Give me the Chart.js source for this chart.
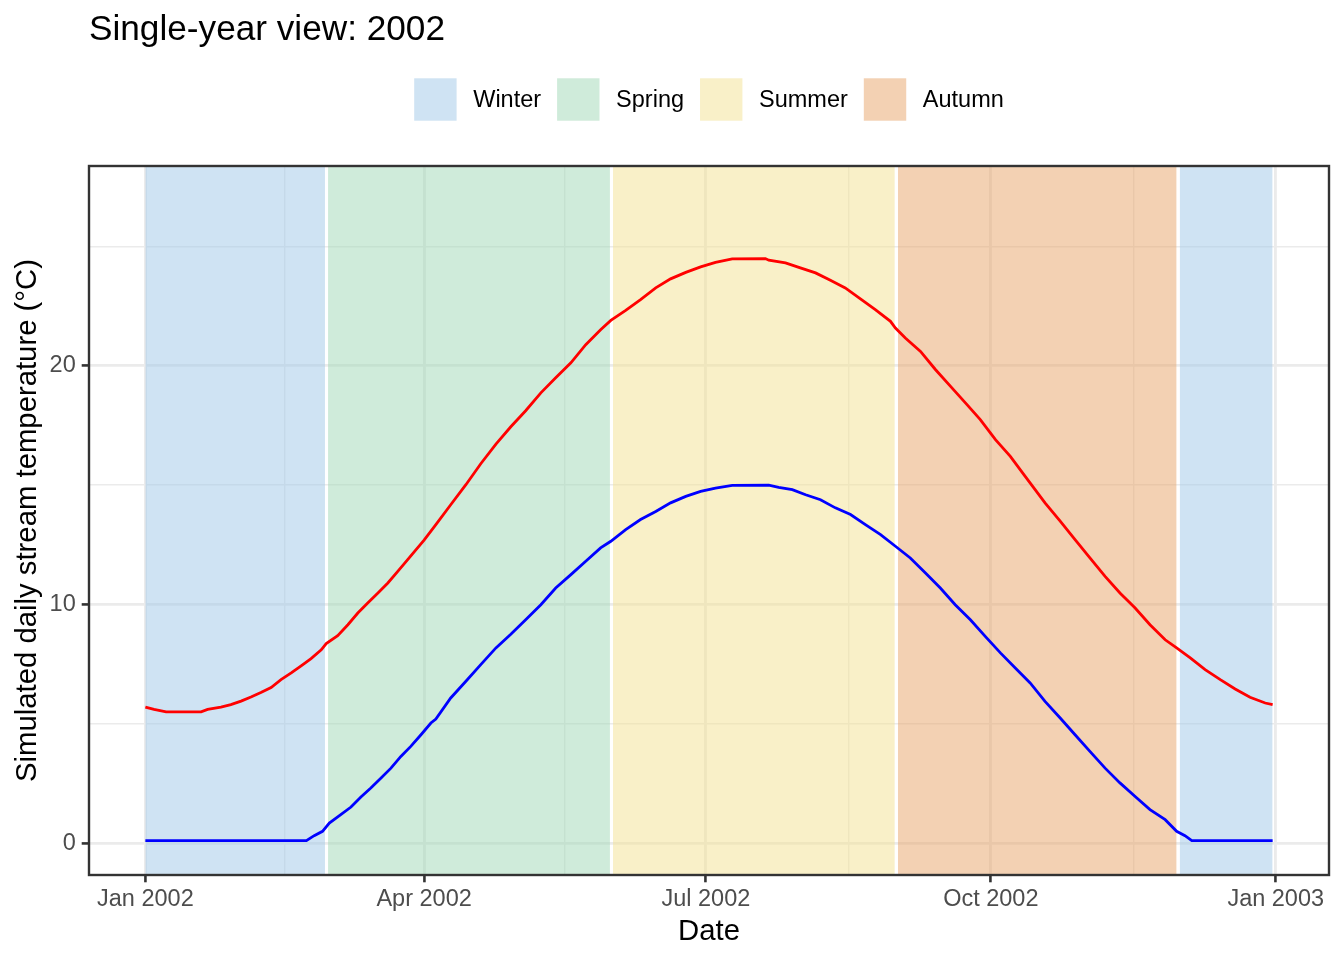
<!DOCTYPE html>
<html>
<head>
<meta charset="utf-8">
<title>Single-year view: 2002</title>
<script src="https://cdn.jsdelivr.net/npm/chart.js@4.4.1/dist/chart.umd.min.js"></script>
<style>
    html, body { margin: 0; padding: 0; background: #ffffff; }
    #wrap { width: 1344px; height: 960px; }
</style>
</head>
<body>
<div id="wrap"><canvas id="tempChart" width="1344" height="960"></canvas></div>
<script>
// x values are days since 1 Jan 2002
const upperDays = [0, 2.8, 6.7, 18, 20.1, 24.4, 27.6, 30.9, 34.1, 37.3, 40.6, 43.8, 47.1, 50.3, 53.5, 56.8, 58.4,
    62.1, 65.4, 68.6, 71.8, 75.1, 78.3, 81.5, 84.7, 90, 93.8, 98.6, 103.5, 108.3, 113.2, 118.0, 122.8, 127.7,
    132.5, 137.4, 142.2, 147.0, 150.3, 155.1, 159.9, 164.8, 169.6, 174.5, 179.3, 184.1, 189.5, 200.2, 201.3,
    206.7, 211.5, 216.4, 221.2, 226.0, 230.9, 235.7, 240.6, 242.2, 245.4, 250.3, 255.1, 260.0, 264.8, 269.6,
    274.5, 279.3, 284.1, 290.5, 295.4, 300.2, 305.0, 309.9, 314.7, 319.6, 324.4, 329.3, 333.0, 337.4, 342.2,
    347.1, 351.9, 356.7, 361.6, 364];
const upperTemps = [5.7, 5.6, 5.5, 5.5, 5.6, 5.7, 5.8, 5.95, 6.12, 6.31, 6.52, 6.85, 7.13, 7.43, 7.73, 8.1, 8.36,
    8.69, 9.15, 9.64, 10.06, 10.48, 10.9, 11.39, 11.88, 12.7, 13.35, 14.18, 15.02, 15.9, 16.72, 17.45, 18.12, 18.87,
    19.5, 20.13, 20.89, 21.52, 21.91, 22.33, 22.78, 23.27, 23.65, 23.92, 24.15, 24.34, 24.49, 24.5, 24.43,
    24.32, 24.11, 23.9, 23.59, 23.27, 22.81, 22.36, 21.87, 21.59, 21.17, 20.61, 19.85, 19.14, 18.45, 17.75,
    16.91, 16.21, 15.37, 14.26, 13.49, 12.72, 11.95, 11.18, 10.48, 9.85, 9.15, 8.52, 8.18, 7.76, 7.27,
    6.85, 6.46, 6.11, 5.87, 5.8];

const lowerDays = [0, 52.0, 54.5, 57.2, 59.4, 63.1, 66.4, 69.6, 72.8, 76.1, 79.3, 82.5, 85.7, 89.0, 92.2, 93.8, 98.6,
    103.5, 108.3, 113.2, 118.0, 122.8, 127.7, 132.5, 137.4, 142.2, 147.0, 150.3, 155.1, 159.9, 164.8, 169.6,
    174.5, 179.3, 184.1, 189.5, 201.3, 204.5, 208.9, 213.2, 218.0, 222.8, 227.7, 232.5, 237.4, 242.2, 247.0,
    251.9, 256.7, 261.5, 266.4, 271.2, 276.1, 280.9, 285.7, 290.5, 295.4, 300.2, 305.0, 309.9, 314.7, 319.6,
    324.4, 329.3, 333.0, 335.7, 337.9, 364];
const lowerTemps = [0.1, 0.1, 0.31, 0.49, 0.84, 1.19, 1.51, 1.93, 2.31, 2.73, 3.14, 3.63, 4.05, 4.54, 5.03, 5.2, 6.08,
    6.78, 7.48, 8.18, 8.75, 9.36, 9.99, 10.69, 11.25, 11.81, 12.37, 12.65, 13.14, 13.56, 13.9, 14.26,
    14.53, 14.74, 14.88, 14.99, 15.0, 14.91, 14.81, 14.6, 14.39, 14.05, 13.77, 13.35, 12.93, 12.44, 11.95,
    11.32, 10.69, 9.99, 9.36, 8.66, 7.97, 7.34, 6.71, 5.94, 5.24, 4.54, 3.84, 3.14, 2.52, 1.95,
    1.4, 0.98, 0.49, 0.31, 0.1, 0.1];

// season bands (first and last day of each)
const seasonNames = ['Winter', 'Spring', 'Summer', 'Autumn'];
const periodSeason = ['Winter', 'Spring', 'Summer', 'Autumn', 'Winter'];
const periodStart = [0, 59, 151, 243, 334];
const periodEnd = [58, 150, 242, 333, 364];

// axis breaks
const xMajorDays = [0, 90, 181, 273, 365];
const xMajorLabels = ['Jan 2002', 'Apr 2002', 'Jul 2002', 'Oct 2002', 'Jan 2003'];
const xMinorDays = [45, 135.5, 227, 319];
const yMajorTicks = [0, 10, 20];
const yMinorTicks = [5, 15, 25];

const X_MIN = -18.2, X_MAX = 382.2;
const Y_MIN = -1.34, Y_MAX = 28.38;

const seasonColors = {
    Winter: 'rgba(159, 199, 231, 0.5)',
    Spring: 'rgba(159, 215, 181, 0.5)',
    Summer: 'rgba(243, 225, 145, 0.5)',
    Autumn: 'rgba(231, 163, 103, 0.5)'
};

const FONT = '"Liberation Sans", Arial, Helvetica, sans-serif';
Chart.defaults.font.family = FONT;

const bandSets = periodStart.map((start, i) => ({
    label: periodSeason[i],
    data: [{x: start, y: Y_MAX}, {x: periodEnd[i], y: Y_MAX}],
    borderWidth: 0,
    pointRadius: 0,
    fill: 'start',
    backgroundColor: seasonColors[periodSeason[i]],
    order: 2
}));

const lineSets = [
    {
        label: 'upper',
        data: upperDays.map((d, i) => ({x: d, y: upperTemps[i]})),
        borderColor: '#ff0000',
        borderWidth: 2.8,
        pointRadius: 0,
        fill: false,
        order: 0
    },
    {
        label: 'lower',
        data: lowerDays.map((d, i) => ({x: d, y: lowerTemps[i]})),
        borderColor: '#0000ff',
        borderWidth: 2.8,
        pointRadius: 0,
        fill: false,
        order: 0
    }
];

const isMajorX = v => xMajorDays.includes(v);
const isMajorY = v => yMajorTicks.includes(v);

const ggDecor = {
    id: 'ggDecor',
    afterDatasetsDraw(chart) {
        const {ctx, chartArea: a} = chart;
        ctx.save();
        ctx.strokeStyle = '#333333';
        ctx.lineWidth = 2.4;
        ctx.strokeRect(a.left, a.top, a.right - a.left, a.bottom - a.top);
        ctx.restore();
    },
    afterDraw(chart) {
        const {ctx, chartArea: a} = chart;
        ctx.save();
        // title
        ctx.fillStyle = '#000000';
        ctx.font = '35.2px ' + FONT;
        ctx.textAlign = 'left';
        ctx.textBaseline = 'alphabetic';
        ctx.fillText('Single-year view: 2002', a.left, 39.5);

        // legend
        const keySize = 42.4, keyGap = 16.6, itemGap = 16;
        ctx.font = '23.5px ' + FONT;
        const widths = seasonNames.map(n => ctx.measureText(n).width);
        let total = widths.reduce((s, w) => s + keySize + keyGap + w, 0) + itemGap * (seasonNames.length - 1);
        let x = (a.left + a.right) / 2 - total / 2;
        const top = 78.3;
        ctx.textBaseline = 'middle';
        seasonNames.forEach((name, i) => {
            ctx.fillStyle = seasonColors[name];
            ctx.fillRect(x, top, keySize, keySize);
            ctx.fillStyle = '#000000';
            ctx.fillText(name, x + keySize + keyGap, top + keySize / 2 + 1.5);
            x += keySize + keyGap + widths[i] + itemGap;
        });
        ctx.restore();
    }
};

new Chart(document.getElementById('tempChart'), {
    type: 'line',
    data: {datasets: [...lineSets, ...bandSets]},
    options: {
        responsive: false,
        animation: false,
        events: [],
        layout: {padding: {top: 166, right: 15, bottom: 0, left: 0}},
        plugins: {
            legend: {display: false},
            tooltip: {enabled: false},
            title: {display: false}
        },
        scales: {
            x: {
                type: 'linear',
                min: X_MIN,
                max: X_MAX,
                afterBuildTicks: axis => {
                    axis.ticks = [...xMajorDays, ...xMinorDays].sort((p, q) => p - q).map(v => ({value: v}));
                },
                afterFit: axis => { axis.height = 85; },
                border: {display: false},
                grid: {
                    color: '#ebebeb',
                    lineWidth: c => isMajorX(c.tick.value) ? 2.85 : 1.42,
                    drawTicks: true,
                    tickLength: 7.3,
                    tickWidth: 2.6,
                    tickColor: c => isMajorX(c.tick.value) ? '#333333' : 'rgba(0,0,0,0)'
                },
                ticks: {
                    autoSkip: false,
                    maxRotation: 0,
                    padding: 3,
                    color: '#4d4d4d',
                    font: {size: 23.5},
                    callback: v => {
                        const k = xMajorDays.indexOf(v);
                        return k >= 0 ? xMajorLabels[k] : '';
                    }
                },
                title: {
                    display: true,
                    text: 'Date',
                    color: '#000000',
                    font: {size: 29.3},
                    padding: {top: 0, bottom: 10.5}
                }
            },
            y: {
                type: 'linear',
                min: Y_MIN,
                max: Y_MAX,
                afterBuildTicks: axis => {
                    axis.ticks = [...yMajorTicks, ...yMinorTicks].sort((p, q) => p - q).map(v => ({value: v}));
                },
                afterFit: axis => { axis.width = 89; },
                border: {display: false},
                grid: {
                    color: '#ebebeb',
                    lineWidth: c => isMajorY(c.tick.value) ? 2.85 : 1.42,
                    drawTicks: true,
                    tickLength: 7.3,
                    tickWidth: 2.6,
                    tickColor: c => isMajorY(c.tick.value) ? '#333333' : 'rgba(0,0,0,0)'
                },
                ticks: {
                    autoSkip: false,
                    padding: 6,
                    color: '#4d4d4d',
                    font: {size: 23.5},
                    callback: v => isMajorY(v) ? String(v) : ''
                },
                title: {
                    display: true,
                    text: 'Simulated daily stream temperature (°C)',
                    color: '#000000',
                    font: {size: 29.3},
                    padding: {top: 10.5, bottom: 0}
                }
            }
        }
    },
    plugins: [ggDecor]
});
</script>
</body>
</html>
